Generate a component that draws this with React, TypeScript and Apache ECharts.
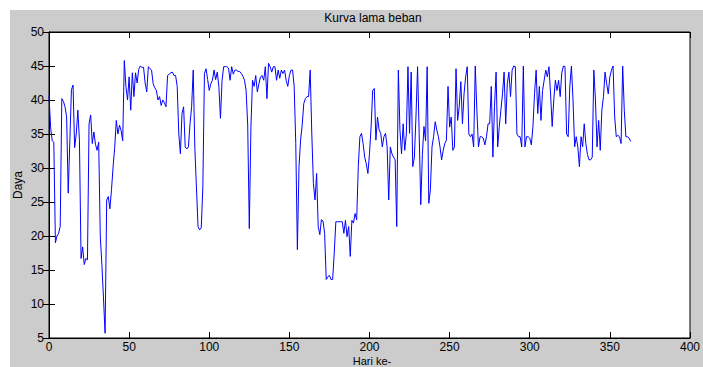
import React, { useEffect, useRef } from "react";
import * as echarts from "echarts";

const chartTitle = "Kurva lama beban";
const xAxisName = "Hari ke-";
const yAxisName = "Daya";
const xTicks = [0, 50, 100, 150, 200, 250, 300, 350, 400];
const yTicks = [5, 10, 15, 20, 25, 30, 35, 40, 45, 50];

// Daily load values (day 0 .. 363)
const days0to60 = [
  40.7, 36, 34, 33.8, 19, 20, 20.4, 21.4, 40.2, 39.8,
  39, 37.5, 26.3, 34, 41.5, 42.2, 33, 35, 38.5, 34,
  16.7, 18.4, 15.8, 16.7, 16.5, 36.5, 37.8, 33.6, 35.3, 33.5,
  32.6, 33.8, 20, 15.8, 10.9, 5.7, 25.3, 25.8, 24, 26.8,
  30.2, 33, 37, 35, 36.3, 35.5, 34, 45.8, 42, 40,
  43.4, 38.5, 44, 40.5, 44, 42.5, 44.5, 45, 44.8, 44.8,
  42.5,
];
const days61to120 = [
  41.2, 44.9, 44.6, 44.4, 42.4, 41.8, 41.4, 40, 40.5,
  39.2, 40, 39.6, 39, 43.6, 43.8, 44, 44.1, 43.6, 43.6,
  42, 35, 32.1, 38, 39, 33.1, 32.8, 33.1, 36.5, 39,
  44.4, 33, 27.2, 21.4, 20.9, 21.2, 27.2, 43.9, 44.6, 43,
  41.4, 42.4, 42.9, 44.4, 43, 44.1, 42, 37.3, 42.9, 44.9,
  44.9, 44.9, 44.7, 42.9, 44.9, 43.8, 44.4, 44.4, 44.2, 44.2,
  43.9,
];
const days121to180 = [
  43.5, 42.9, 41.4, 36.3, 21.1, 36, 42.9, 42, 43.6,
  41.2, 42.4, 43.4, 43.6, 42.9, 44.9, 40.2, 45.4, 44.9, 44.1,
  44.9, 44.9, 42.9, 44.4, 43.2, 44.4, 43.9, 44.4, 42.9, 42,
  43.6, 44.4, 44.4, 42, 33.6, 18, 30.2, 34.1, 36.3, 39.5,
  40.2, 40.5, 40.5, 44.4, 35, 27.7, 25.3, 29.2, 21.4, 20.2,
  22.4, 22.2, 20.4, 13.6, 14, 14.2, 13.6, 13.6, 17.5, 22.1,
  22.1,
];
const days181to240 = [
  22.1, 22.1, 22.1, 20.4, 22.3, 19.9, 21.4, 17, 22.3,
  21.9, 23.3, 22.4, 30.2, 34.6, 35.1, 33.6, 31.6, 30.6, 29.2,
  32.1, 36, 41.4, 41.7, 34.1, 37.5, 35.6, 35.1, 33.1, 34.6,
  35.1, 33.1, 25.3, 33.1, 32.1, 31.6, 31.2, 21.4, 44.4, 35.6,
  32.1, 36.5, 32.6, 35, 44.9, 35.1, 44.1, 30.2, 31.6, 37.5,
  44.9, 35.1, 24.6, 32, 36.1, 34, 44.9, 24.8, 26.8, 33.1,
  34.6,
];
const days241to300 = [
  36.8, 35.6, 34.6, 33.1, 31.2, 32.6, 33.6, 34.1, 42,
  36, 37.5, 32.6, 33.1, 44.6, 37, 39, 42.7, 36.5, 40.9,
  43.4, 44.9, 35, 34.6, 35, 33.1, 45, 38.5, 33.1, 34.6,
  34.6, 34.4, 33.4, 34.6, 36.5, 36.5, 42, 31.6, 39, 44.1,
  33.1, 36.1, 38.5, 40.9, 44.1, 36.5, 42.4, 44.1, 40.5, 44.4,
  45, 44.9, 35, 34.6, 34.6, 33.1, 45, 33.1, 34.6, 34.6,
  34.4,
];
const days301to363 = [
  33.4, 36.1, 41, 44.4, 38, 42, 37, 41.4, 42.9,
  44.4, 43.4, 44.9, 40.9, 36.1, 40, 42.9, 41.4, 42.9, 40.5,
  44, 45, 44.9, 35, 34.6, 42, 45, 40, 33.1, 34.6,
  33.1, 30.2, 34.6, 33.1, 36.5, 33.6, 32, 31.2, 31.2, 31.6,
  44.4, 40, 33.1, 37, 32.6, 38.5, 40.5, 44.1, 42.4, 40.9,
  43.4, 44.4, 45, 37.5, 34.6, 34.8, 34.6, 33.6, 45, 38.5,
  34.6, 34.6, 34.4, 33.9,
];

const loadValues = [
  ...days0to60,
  ...days61to120,
  ...days121to180,
  ...days181to240,
  ...days241to300,
  ...days301to363,
];

const FONT = "'Liberation Sans', Arial, Helvetica, sans-serif";

export default function App() {
  const ref = useRef<HTMLDivElement>(null);

  useEffect(() => {
    if (!ref.current) return;
    const chart = echarts.init(ref.current, undefined, { renderer: "svg" });
    const seriesData = loadValues.map((v, i) => [i, v]);

    const tickStyle = { show: true, inside: true, length: 6, lineStyle: { color: "#000", width: 1 } };

    chart.setOption({
      animation: false,
      backgroundColor: "#ffffff",
      textStyle: { fontFamily: FONT },
      graphic: [
        {
          type: "rect",
          z: -10,
          silent: true,
          shape: { x: 10, y: 10, width: 693, height: 357 },
          style: { fill: "#cccccc" },
        },
        {
          type: "text",
          x: 373,
          y: 18,
          style: {
            text: chartTitle,
            fill: "#000",
            font: `12px ${FONT}`,
            align: "center",
            verticalAlign: "middle",
          },
        },
        {
          type: "text",
          x: 372,
          y: 361,
          style: {
            text: xAxisName,
            fill: "#000",
            font: `11px ${FONT}`,
            align: "center",
            verticalAlign: "middle",
          },
        },
        {
          type: "text",
          x: 18,
          y: 185,
          rotation: Math.PI / 2,
          style: {
            text: yAxisName,
            fill: "#000",
            font: `12px ${FONT}`,
            align: "center",
            verticalAlign: "middle",
          },
        },
      ],
      grid: {
        left: 49,
        top: 32,
        width: 649,
        height: 306,
        show: true,
        backgroundColor: "#ffffff",
        borderColor: "#000",
        borderWidth: 1,
        z: 0,
      },
      xAxis: [
        {
          type: "value",
          min: xTicks[0],
          max: xTicks[xTicks.length - 1],
          interval: 50,
          position: "bottom",
          axisLine: { show: true, lineStyle: { color: "#000" } },
          axisTick: tickStyle,
          splitLine: { show: false },
          axisLabel: { color: "#000", fontSize: 12, fontFamily: FONT, margin: 3 },
        },
        {
          type: "value",
          min: xTicks[0],
          max: xTicks[xTicks.length - 1],
          interval: 50,
          position: "top",
          axisLine: { show: true, lineStyle: { color: "#000" } },
          axisTick: tickStyle,
          splitLine: { show: false },
          axisLabel: { show: false },
        },
      ],
      yAxis: [
        {
          type: "value",
          min: yTicks[0],
          max: yTicks[yTicks.length - 1],
          interval: 5,
          position: "left",
          axisLine: { show: true, lineStyle: { color: "#000" } },
          axisTick: tickStyle,
          splitLine: { show: false },
          axisLabel: { color: "#000", fontSize: 12, fontFamily: FONT, margin: 5 },
        },
        {
          type: "value",
          min: yTicks[0],
          max: yTicks[yTicks.length - 1],
          interval: 5,
          position: "right",
          axisLine: { show: true, lineStyle: { color: "#000" } },
          axisTick: tickStyle,
          splitLine: { show: false },
          axisLabel: { show: false },
        },
      ],
      series: [
        {
          type: "line",
          xAxisIndex: 0,
          yAxisIndex: 0,
          data: seriesData,
          showSymbol: false,
          symbol: "none",
          lineStyle: { color: "#0000ff", width: 1 },
          z: 5,
        },
      ],
    });

    return () => chart.dispose();
  }, []);

  return (
    <div
      ref={ref}
      style={{ position: "fixed", left: 0, top: 0, width: 703, height: 367 }}
    />
  );
}
